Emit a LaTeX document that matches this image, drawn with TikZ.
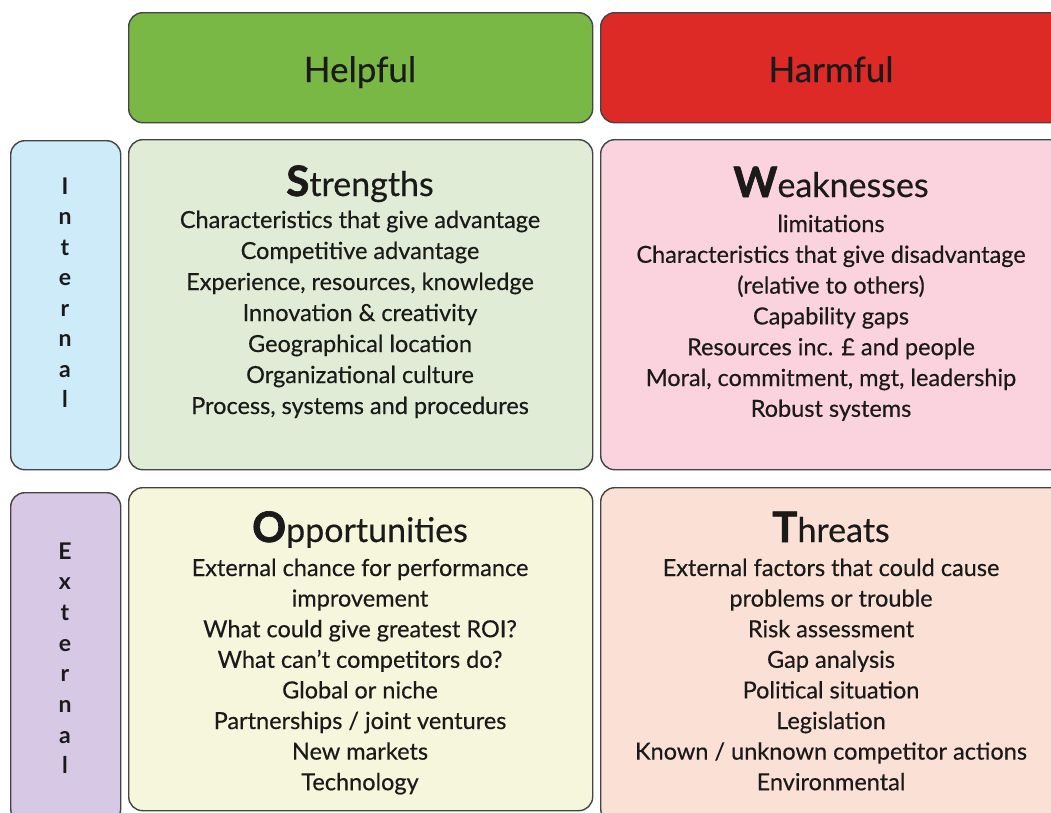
\documentclass[tikz,border=0pt]{standalone}
\usepackage{fontspec}
\setmainfont{Lato}[FakeBold=0.4]
\newfontfamily\heavyfont{Lato}[FakeBold=1.6]
\newfontfamily\sidefont{Lato}
\definecolor{helpgreen}{HTML}{7AB845}
\definecolor{harmred}{HTML}{DE2A26}
\definecolor{intblue}{HTML}{CDEBF8}
\definecolor{extpurple}{HTML}{D7C9E6}
\definecolor{strfill}{HTML}{E1ECD6}
\definecolor{weakfill}{HTML}{FAD3DE}
\definecolor{oppfill}{HTML}{F6F6DC}
\definecolor{thrfill}{HTML}{FBE1D5}
\definecolor{edge}{HTML}{444444}
\definecolor{ink}{HTML}{1A1A1A}
\tikzset{
  panel/.style={draw=edge, line width=1.4pt, rounded corners=14pt, anchor=north west, inner sep=0pt},
  headtxt/.style={text=ink, font=\fontsize{35}{38}\selectfont, anchor=base, inner sep=0pt},
  titletxt/.style={text=ink, font=\fontsize{34}{38}\selectfont, anchor=base, inner sep=0pt},
  linetxt/.style={text=ink, font=\fontsize{23.5}{26}\selectfont, anchor=base, inner sep=0pt},
  sidetxt/.style={text=ink, font=\sidefont\bfseries\fontsize{23}{26}\selectfont, anchor=base, inner sep=0pt}
}
\newcommand{\bigfirst}[2]{{\heavyfont\bfseries\fontsize{42}{44}\selectfont #1}#2}
\begin{document}
\begin{tikzpicture}[x=1pt,y=-1pt]
\useasboundingbox (0,0) rectangle (1051,812);
\clip (0,0) rectangle (1051,812);
% header boxes
\node[panel, fill=helpgreen, minimum width=464pt, minimum height=110pt] (helpful) at (128,12) {};
\node[panel, fill=harmred, minimum width=464pt, minimum height=110pt] (harmful) at (600,12) {};
\node[headtxt] (helpfultxt) at (360,82) {Helpful};
\node[headtxt] (harmfultxt) at (831,82) {Harmful};
% side boxes
\node[panel, fill=intblue, minimum width=110pt, minimum height=329pt] (internal) at (10,140) {};
\node[panel, fill=extpurple, minimum width=110pt, minimum height=330pt] (external) at (10,492) {};
% quadrants
\node[panel, fill=strfill, minimum width=464pt, minimum height=330pt] (strengths) at (128,139) {};
\node[panel, fill=weakfill, minimum width=464pt, minimum height=330pt] (weaknesses) at (600,139) {};
\node[panel, fill=oppfill, minimum width=464pt, minimum height=323pt] (opportunities) at (128,487) {};
\node[panel, fill=thrfill, minimum width=464pt, minimum height=335pt] (threats) at (600,487) {};
% side letters
\foreach \c [count=\i] in {I,n,t,e,r,n,a,l}
  \node[sidetxt] (int\i) at (65,{194+30.5*(\i-1)}) {\c};
\foreach \c [count=\i] in {E,x,t,e,r,n,a,l}
  \node[sidetxt] (ext\i) at (65,{559+30.7*(\i-1)}) {\c};
% titles
\node[titletxt] (strtitle) at (360,196) {\bigfirst{S}{trengths}};
\node[titletxt] (weaktitle) at (831,197) {\bigfirst{W}{eaknesses}};
\node[titletxt] (opptitle) at (360,542) {\bigfirst{O}{pportunities}};
\node[titletxt] (thrtitle) at (831,542) {\bigfirst{T}{hreats}};
% strengths lines
\foreach \t [count=\i] in {Characteristics that give advantage, Competitive advantage, {Experience, resources, knowledge}, Innovation \& creativity, Geographical location, Organizational culture, Process{,} systems and procedures}
  \node[linetxt] (sl\i) at (360,{228+31*(\i-1)}) {\t};
% weaknesses lines
\foreach \t [count=\i] in {limitations, Characteristics that give disadvantage, (relative to others), Capability gaps, Resources inc. £ and people, {Moral, commitment, mgt, leadership}, Robust systems}
  \node[linetxt] (wl\i) at (831,{232+30.8*(\i-1)}) {\t};
% opportunities lines
\foreach \t [count=\i] in {External chance for performance, improvement, What could give greatest ROI?, What can't competitors do?, Global or niche, Partnerships / joint ventures, New markets, Technology}
  \node[linetxt] (ol\i) at (360,{576+30.6*(\i-1)}) {\t};
% threats lines
\foreach \t [count=\i] in {External factors that could cause, problems or trouble, Risk assessment, Gap analysis, Political situation, Legislation, Known / unknown competitor actions, Environmental}
  \node[linetxt] (tl\i) at (831,{576+30.6*(\i-1)}) {\t};
\end{tikzpicture}
\end{document}
